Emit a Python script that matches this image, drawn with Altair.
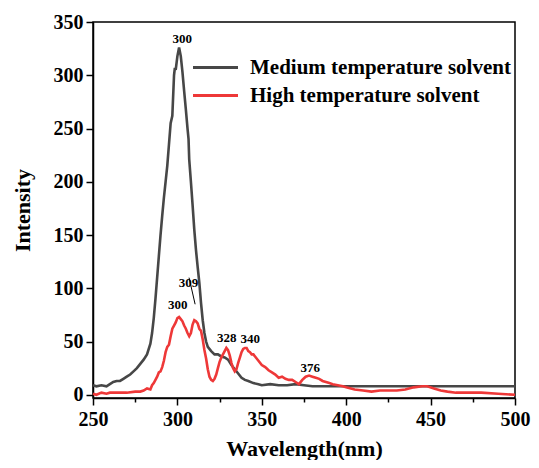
import altair as alt
import pandas as pd

# Medium temperature solvent (gray)
med_x = [250, 252, 255, 258, 260, 262, 264, 266, 268, 270, 272, 274, 276, 278, 280, 282, 284, 285, 286, 287,
         288, 289, 290, 291, 292, 293, 294, 295, 296, 297, 298, 298.5, 299, 300, 301, 302, 303, 304, 305, 306,
         306.6, 307, 308, 309, 310, 311, 312, 313, 314, 315, 316, 317, 318, 320, 322, 324, 326, 328, 330, 332,
         334, 336, 338, 340, 342, 345, 348, 350, 355, 360, 365, 370, 375, 380, 390, 400, 420, 450, 480, 500]
med_y = [9, 8, 9, 8, 10, 12, 13, 13, 15, 17, 19, 22, 25, 29, 33, 38, 48, 58, 72, 90,
         110, 130, 150, 168, 185, 200, 215, 235, 255, 262, 300, 307, 305, 318, 326, 318, 303, 285, 268, 250,
         240, 221, 200, 178, 155, 136, 120, 105, 86, 70, 58, 50, 45, 41, 38, 38, 36, 35, 33, 28,
         24, 20, 16, 14, 13, 11, 10, 9, 10, 9, 9, 10, 9, 8, 8, 8, 8, 8, 8, 8]

# High temperature solvent (red)
high_x = [250, 252, 255, 258, 260, 265, 270, 275, 278, 280, 282, 284, 285, 286, 287, 288, 289, 290, 291, 292,
          293, 294, 295, 296, 297, 298, 299, 300, 301, 302, 303, 304, 305, 306, 307, 308, 309, 310, 311, 312,
          313, 314, 315, 316, 317, 318, 319, 320, 321, 322, 323, 324, 325, 326, 327, 328, 329, 330, 331, 332,
          333, 334, 335, 336, 337, 338, 339, 340, 341, 342, 343, 344, 345, 346, 348, 350, 352, 354, 356, 358,
          360, 362, 364, 366, 368, 370, 372, 374, 376, 378, 380, 382, 384, 386, 388, 390, 392, 395, 398, 400,
          405, 410, 415, 420, 425, 430, 435, 440, 445, 448, 452, 456, 460, 465, 470, 480, 490, 500]
high_y = [1, 0, 2, 1, 2, 2, 2, 3, 3, 4, 6, 5, 9, 11, 14, 17, 21, 22, 26, 32,
          40, 45, 47, 55, 62, 65, 68, 72, 73, 71, 69, 65, 62, 58, 55, 58, 66, 70, 69, 67,
          62, 60, 52, 42, 34, 24, 17, 14, 13, 15, 19, 25, 31, 35, 38, 41, 44, 42, 37, 30,
          25, 22, 24, 30, 35, 40, 43, 44, 44, 41, 40, 38, 38, 36, 32, 28, 26, 23, 21, 19,
          16, 17, 15, 14, 14, 12, 10, 14, 17, 18, 17, 16, 15, 13, 12, 11, 10, 9, 8, 7,
          5, 4, 3, 4, 4, 4, 5, 7, 8, 8, 6, 4, 3, 2, 2, 2, 1, 0]

series_names = ["Medium temperature solvent", "High temperature solvent"]
series_colors = ["#474747", "#EE3838"]

# Peak annotations
ann_text = ["300", "300", "309", "328", "340", "376"]
ann_x = [302.9, 300.2, 306.6, 329.3, 343.2, 378.7]
ann_y = [334, 84, 105, 53.5, 52.5, 25]

# Leader line for the 309 label
lead_x = [306.9]
lead_x2 = [310.5]
lead_y = [110]
lead_y2 = [85]

x_ticks = [250, 275, 300, 325, 350, 375, 400, 425, 450, 475, 500]
y_ticks = [0, 25, 50, 75, 100, 125, 150, 175, 200, 225, 250, 275, 300, 325, 350]

df = pd.concat([
    pd.DataFrame({"wl": med_x, "val": med_y, "series": series_names[0], "order": range(len(med_x))}),
    pd.DataFrame({"wl": high_x, "val": high_y, "series": series_names[1], "order": range(len(high_x))}),
])
ann = pd.DataFrame({"x": ann_x, "y": ann_y, "t": ann_text})
lead = pd.DataFrame({"x": lead_x, "x2": lead_x2, "y": lead_y, "y2": lead_y2})

FONT = "Liberation Serif"

xscale = alt.Scale(domain=[250, 500], nice=False, zero=False)
yscale = alt.Scale(domain=[-3, 350], nice=False, zero=False)

xaxis = alt.Axis(
    values=x_ticks, title="Wavelength(nm)", labelFlush=False,
    labelExpr="datum.value % 50 === 0 ? datum.label : ''",
    tickSize={"condition": {"test": "datum.value % 50 !== 0", "value": 4}, "value": 7},
    labelPadding=4, titlePadding=9, grid=False,
)
yaxis = alt.Axis(
    values=y_ticks, title="Intensity", labelFlush=False,
    labelExpr="datum.value % 50 === 0 ? datum.label : ''",
    tickSize={"condition": {"test": "datum.value % 50 !== 0", "value": 4}, "value": 7},
    labelPadding=3, titlePadding=19, grid=False,
)

lines = alt.Chart(df).mark_line(strokeWidth=2.6).encode(
    x=alt.X("wl:Q", scale=xscale, axis=xaxis),
    y=alt.Y("val:Q", scale=yscale, axis=yaxis),
    color=alt.Color("series:N", scale=alt.Scale(domain=series_names, range=series_colors),
                    sort=series_names,
                    legend=alt.Legend(title=None, orient="none", legendX=112, legendY=35,
                                      symbolType="M-3,0H3", symbolSize=225, symbolStrokeWidth=3,
                                      labelFont=FONT, labelFontSize=21, labelFontWeight="bold",
                                      labelColor="black", labelOffset=24, rowPadding=6,
                                      labelLimit=400)),
    order="order:Q",
)

labels = alt.Chart(ann).mark_text(font=FONT, fontSize=13, fontWeight="bold", color="black").encode(
    x=alt.X("x:Q", scale=xscale), y=alt.Y("y:Q", scale=yscale), text="t:N"
)

leader = alt.Chart(lead).mark_rule(color="black", strokeWidth=1).encode(
    x=alt.X("x:Q", scale=xscale), x2="x2:Q", y=alt.Y("y:Q", scale=yscale), y2="y2:Q"
)

chart = alt.layer(lines, labels, leader).properties(
    width=422, height=376,
    autosize=alt.AutoSizeParams(type="none"),
    padding={"left": 85, "top": 14, "right": 16, "bottom": 62},
).configure_view(
    stroke="black", strokeWidth=1.5
).configure_axis(
    domainColor="black", domainWidth=1.5, tickColor="black", tickWidth=1.5,
    labelFont=FONT, labelFontSize=20, labelFontWeight="bold", labelColor="black",
    titleFont=FONT, titleFontSize=22, titleFontWeight="bold", titleColor="black",
)

chart.save("out.html", embed_options={"renderer": "svg", "actions": False})
